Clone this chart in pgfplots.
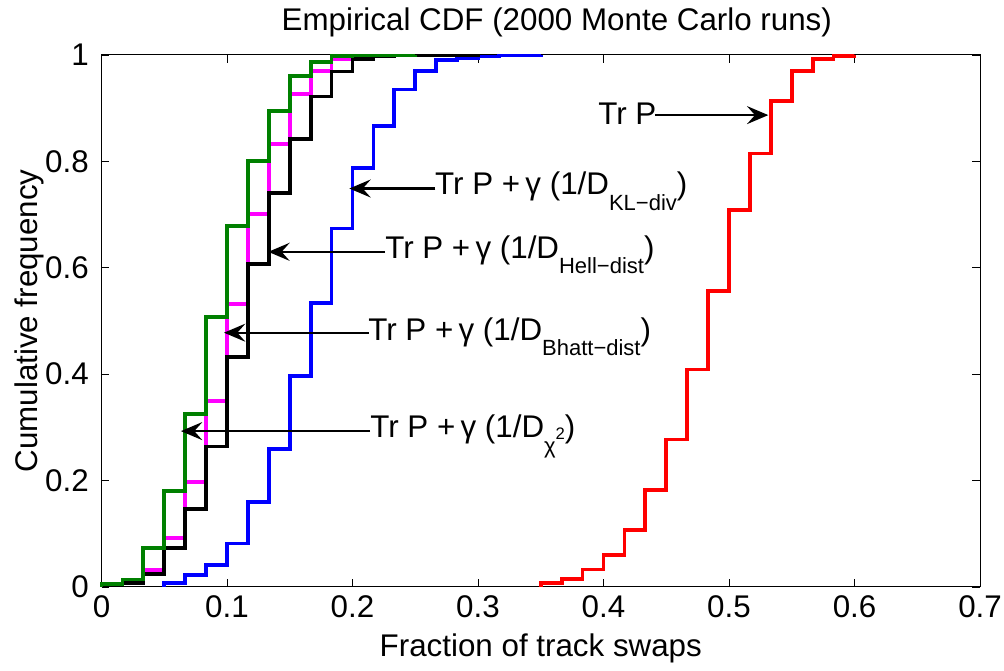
\documentclass[border=0pt]{standalone}
\usepackage{pgfplots}
\pgfplotsset{compat=1.18}
\usepackage{fontspec}
\setmainfont{Liberation Sans}
\usetikzlibrary{arrows.meta}
\definecolor{mgreen}{rgb}{0,0.5,0}
\definecolor{mmag}{rgb}{1,0,1}
\definecolor{mred}{rgb}{1,0,0}
\definecolor{mblue}{rgb}{0,0,1}
\newcommand\fs{\fontsize{23.5}{28}\selectfont}
\newcommand\subs[1]{\raisebox{-0.5em}{\fontsize{16.5}{19}\selectfont #1}}
\tikzset{annarrow/.style={line width=1.6pt, -{Stealth[length=16pt,width=13.5pt,inset=6pt]}}}
\begin{document}
\begin{tikzpicture}[font=\fs]
\useasboundingbox (0,0) rectangle (753pt,503.25pt);
\begin{axis}[
  at={(76.125pt,63pt)}, anchor=south west,
  scale only axis, width=658.9pt, height=399pt,
  xmin=0, xmax=0.7, ymin=0, ymax=1,
  xtick={0,0.1,0.2,0.3,0.4,0.5,0.6,0.7},
  xticklabels={0,0.1,0.2,0.3,0.4,0.5,0.6,0.7},
  ytick={0,0.2,0.4,0.6,0.8,1},
  yticklabels={0,0.2,0.4,0.6,0.8,1},
  tick align=inside,
  major tick length=6pt,
  axis line style={line width=0.75pt},
  every tick/.style={black, line width=0.6pt},
  clip=false,
  xticklabel style={yshift=-3pt},
  yticklabel style={xshift=-6pt},
  every axis plot/.append style={const plot, line width=2.8pt, no marks},
]
% Tr P
\addplot[mred] coordinates {
(0.35,0) (0.35,0.007) (0.366667,0.015) (0.383333,0.033) (0.4,0.060)
(0.416667,0.107) (0.433333,0.183) (0.45,0.277) (0.466667,0.409)
(0.483333,0.557) (0.5,0.708) (0.516667,0.815) (0.533333,0.914)
(0.55,0.970) (0.566667,0.993) (0.583333,0.998) (0.6,1)};
% KL-div
\addplot[mblue] coordinates {
(0.05,0) (0.05,0.007) (0.066667,0.022) (0.083333,0.042) (0.1,0.082)
(0.116667,0.160) (0.133333,0.259) (0.15,0.396) (0.166667,0.534)
(0.183333,0.674) (0.2,0.787) (0.216667,0.866) (0.233333,0.935)
(0.25,0.970) (0.266667,0.990) (0.283333,0.995) (0.3,0.997)
(0.316667,0.999) (0.35,1)};
% Bhatt-dist
\addplot[mmag] coordinates {
(0.016667,0) (0.016667,0.007) (0.033333,0.032) (0.05,0.092)
(0.066667,0.198) (0.083333,0.350) (0.1,0.532) (0.116667,0.701)
(0.133333,0.833) (0.15,0.926) (0.166667,0.970) (0.183333,0.992)
(0.2,0.997) (0.216667,0.999) (0.283333,1)};
% Hell-dist
\addplot[black] coordinates {
(0.016667,0) (0.016667,0.007) (0.033333,0.024) (0.05,0.073)
(0.066667,0.146) (0.083333,0.264) (0.1,0.433) (0.116667,0.607)
(0.133333,0.740) (0.15,0.842) (0.166667,0.922) (0.183333,0.969)
(0.2,0.992) (0.216667,0.997) (0.233333,0.999) (0.3,1)};
% chi2
\addplot[mgreen] coordinates {
(0,0) (0,0.006) (0.016667,0.014) (0.033333,0.073) (0.05,0.18)
(0.066667,0.325) (0.083333,0.507) (0.1,0.678) (0.116667,0.801)
(0.133333,0.895) (0.15,0.960) (0.166667,0.987) (0.183333,0.998)
(0.2,0.999) (0.25,1)};
% annotations
\draw[annarrow] (axis cs:0.441,0.887) -- (axis cs:0.5313,0.887);
\node[anchor=base west, inner sep=0pt] at (axis cs:0.3956,0.870) {Tr P};
\draw[annarrow] (axis cs:0.266,0.749) -- (axis cs:0.1975,0.749);
\node[anchor=base west, inner sep=0pt] at (axis cs:0.2657,0.738) {Tr P +\,γ (1/D\subs{KL−div})};
\draw[annarrow] (axis cs:0.226,0.630) -- (axis cs:0.1329,0.630);
\node[anchor=base west, inner sep=0pt] at (axis cs:0.2259,0.618) {Tr P +\,γ (1/D\subs{Hell−dist})};
\draw[annarrow] (axis cs:0.213,0.478) -- (axis cs:0.0976,0.478);
\node[anchor=base west, inner sep=0pt] at (axis cs:0.2124,0.464) {Tr P +\,γ (1/D\subs{Bhatt−dist})};
\draw[annarrow] (axis cs:0.214,0.293) -- (axis cs:0.0633,0.293);
\node[anchor=base west, inner sep=0pt] at (axis cs:0.214,0.281) {Tr P +\,γ (1/D\subs{χ\raisebox{0.6em}{\fontsize{12.5}{14}\selectfont 2}})};
\end{axis}
\node[anchor=base] at (417.6pt,480pt) {Empirical CDF (2000 Monte Carlo runs)};
\node[anchor=base] at (405.6pt,10.5pt) {Fraction of track swaps};
\node[anchor=base, rotate=90] at (28pt,262.5pt) {Cumulative frequency};
\end{tikzpicture}
\end{document}
